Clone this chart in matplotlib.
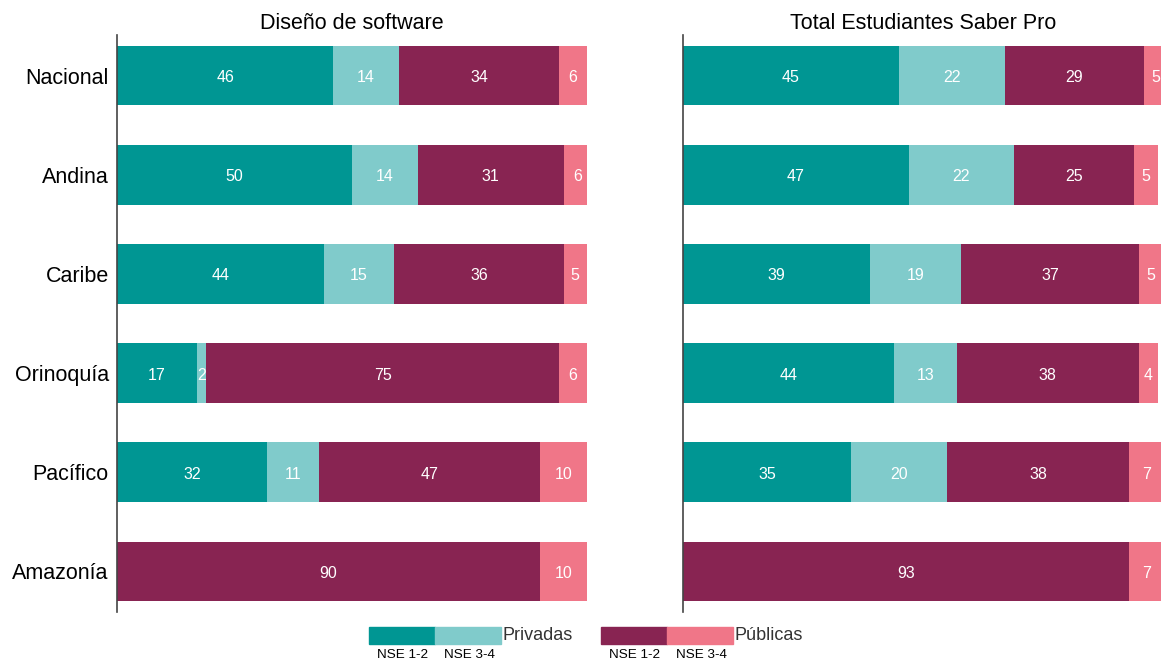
import numpy as np
import matplotlib.pyplot as plt
from matplotlib.patches import Rectangle

plt.rcParams['font.family'] = ['Liberation Sans', 'DejaVu Sans']

regiones = ['Nacional', 'Andina', 'Caribe', 'Orinoquía', 'Pacífico', 'Amazonía']
series = ['Privadas NSE 1-2', 'Privadas NSE 3-4', 'Públicas NSE 1-2', 'Públicas NSE 3-4']
colores = ['#009693', '#80CBCB', '#882452', '#F07688']

# Diseño de software
diseno = [
    [46, 50, 44, 17, 32, 0],   # privadas NSE 1-2
    [14, 14, 15, 2, 11, 0],    # privadas NSE 3-4
    [34, 31, 36, 75, 47, 90],  # publicas NSE 1-2
    [6, 6, 5, 6, 10, 10],      # publicas NSE 3-4
]
# Total Estudiantes Saber Pro
total = [
    [45, 47, 39, 44, 35, 0],
    [22, 22, 19, 13, 20, 0],
    [29, 25, 37, 38, 38, 93],
    [5, 5, 5, 4, 7, 7],
]

W, H = 1161, 662
fig = plt.figure(figsize=(W / 100, H / 100), dpi=100)

def px(x0, y0, x1, y1):
    return [x0 / W, 1 - y1 / H, (x1 - x0) / W, (y1 - y0) / H]

ax1 = fig.add_axes(px(117, 35, 587, 612))
# el panel derecho queda cortado por el borde de la figura
ax2 = fig.add_axes(px(683, 35, 1163, 612))


def dibujar(ax, datos, titulo, etiquetas):
    y = np.arange(len(regiones))
    izq = np.zeros(len(regiones))
    for vals, c in zip(datos, colores):
        vals = np.array(vals, dtype=float)
        ax.barh(y, vals, left=izq, height=0.6, color=c, edgecolor='none')
        for yi, l, v in zip(y, izq, vals):
            if v > 0:
                ax.text(l + v / 2, yi + 0.02, '%d' % v, ha='center', va='center',
                        color='white', fontsize=11.5)
        izq += vals
    ax.set_xlim(0, 100)
    ax.set_ylim(5.41, -0.41)
    ax.set_yticks(y)
    if etiquetas:
        ax.set_yticklabels(regiones, fontsize=15.5)
    else:
        ax.set_yticklabels([])
    ax.tick_params(length=0, pad=6)
    ax.set_xticks([])
    for s in ['top', 'right', 'bottom']:
        ax.spines[s].set_visible(False)
    ax.spines['left'].set_color('#444444')
    ax.spines['left'].set_linewidth(1.2)
    ax.set_title(titulo, fontsize=15.5, pad=4)


dibujar(ax1, diseno, 'Diseño de software', True)
dibujar(ax2, total, 'Total Estudiantes Saber Pro', False)

# leyenda manual
def caja(x0, c):
    fig.patches.append(Rectangle((x0 / W, 1 - 644 / H), 66 / W, 17 / H,
                                 transform=fig.transFigure, color=c, zorder=3))

for x0, c in zip([369, 435, 601, 667], colores):
    caja(x0, c)
for xc in [403, 469, 635, 701]:
    fig.text(xc / W, 1 - 655 / H, 'NSE %s' % ('1-2' if xc in (403, 635) else '3-4'),
             ha='center', va='center', fontsize=9.7)
fig.text(502 / W, 1 - 636 / H, 'Privadas', ha='left', va='center', fontsize=13, color='#333333')
fig.text(734 / W, 1 - 636 / H, 'Públicas', ha='left', va='center', fontsize=13, color='#333333')

plt.savefig('out.png', dpi=100)
